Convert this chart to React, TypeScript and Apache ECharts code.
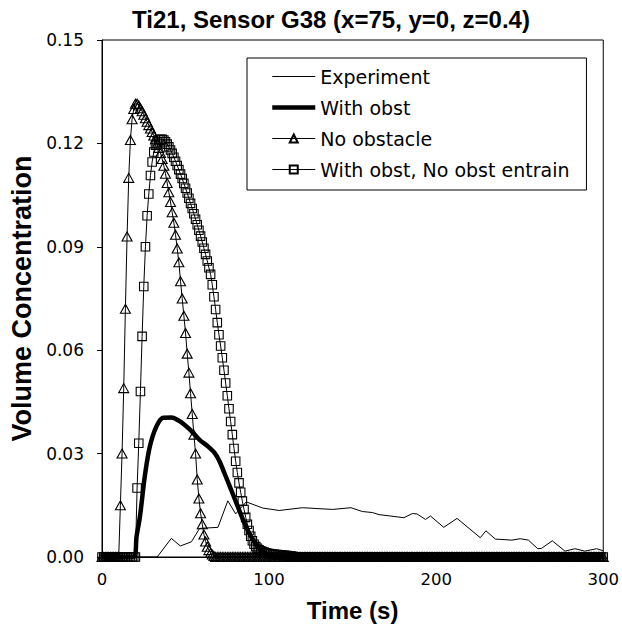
import { useEffect, useRef } from 'react';
import * as echarts from 'echarts';

// Simulation output grid (1 s steps, 0..300 s)
const simTimes: number[] = Array.from({ length: 301 }, (_, i) => i);

// "No obstacle" values, starting at t = 10 s (zero outside this window)
const noObstacleStart = 10;
const noObstacle = [
  0, 0.015, 0.030, 0.049, 0.072, 0.093, 0.110, 0.121, 0.127, 0.130,
  0.1315, 0.1315, 0.131, 0.1302, 0.1293, 0.1283, 0.1273, 0.1263, 0.1253, 0.1243,
  0.1233, 0.1223, 0.1212, 0.120, 0.1187, 0.1172, 0.1155, 0.1135, 0.1112, 0.1085,
  0.1058, 0.103, 0.100, 0.097, 0.0935, 0.0895, 0.0855, 0.080, 0.075, 0.070,
  0.065, 0.059, 0.0535, 0.0475, 0.0415, 0.0355, 0.030, 0.0225, 0.017, 0.0127,
  0.0095, 0.0065, 0.0045, 0.003, 0.002, 0.0012, 0.0007, 0.0003, 0,
];

// "With obst, No obst entrain" values, starting at t = 20 s
const noObstEntrainStart = 20;
const noObstEntrain = [
  0, 0.020, 0.033, 0.048, 0.064, 0.0785, 0.090, 0.099, 0.1053, 0.1107,
  0.1146, 0.1175, 0.1195, 0.1205, 0.121, 0.1212, 0.1212, 0.121, 0.1205, 0.1198,
  0.119, 0.1181, 0.1171, 0.116, 0.1148, 0.1136, 0.1124, 0.1111, 0.1098, 0.1084,
  0.107, 0.1056, 0.1041, 0.1026, 0.1011, 0.0996, 0.098, 0.0964, 0.0948, 0.0931,
  0.0914, 0.0896, 0.0878, 0.0859, 0.0839, 0.082, 0.079, 0.0755, 0.0718, 0.068,
  0.0645, 0.0612, 0.0578, 0.0542, 0.0505, 0.0468, 0.043, 0.0393, 0.0355, 0.0315,
  0.0278, 0.0245, 0.0215, 0.0188, 0.0162, 0.0138, 0.0115, 0.0095, 0.0077, 0.006,
  0.0047, 0.0037, 0.003, 0.0025, 0.0021, 0.0018, 0.0016, 0.0014, 0.0012, 0.0011,
  0.001, 0.0009, 0.0008, 0.0008, 0.0007, 0.0007, 0.0006, 0.0006, 0.0005, 0.0005,
  0.0004, 0.0004, 0.0003, 0.0003, 0.0002, 0,
];

// "With obst" (thick line)
const withObstTimes = [
  0, 19, 20.7, 22.7, 25.6, 28.6, 32.6, 36.6, 41.5, 46.5, 52.5, 58.4, 63.4, 67.4,
  70.4, 73.3, 77.3, 81.3, 85.3, 89.3, 93.2, 98.2, 103, 300,
];
const withObstValues = [
  0, 0, 0.006, 0.0117, 0.0234, 0.032, 0.0379, 0.0404, 0.0405, 0.0394, 0.037, 0.034, 0.0321, 0.0302,
  0.0277, 0.0243, 0.0195, 0.0146, 0.0098, 0.0058, 0.0029, 0.001, 0, 0,
];

// "Experiment" (thin line)
const experimentTimes = [
  0, 33, 41.5, 46.9, 53.5, 58.4, 69.4, 75.3, 80, 86.3, 96.2, 106, 120, 138, 149,
  155.8, 161.8, 165.8, 180.7, 185.7, 188.5, 193.6, 196.6, 204.5, 212.5, 226.4,
  229.8, 235.4, 245.3, 250.3, 255.2, 260.8, 263, 269.5, 277.1, 283, 289, 296, 300,
];
const experimentValues = [
  0, 0, 0.0054, 0.0032, 0.0044, 0.0083, 0.0086, 0.0163, 0.0125, 0.016, 0.0142, 0.0135, 0.0143, 0.0138, 0.0143,
  0.0132, 0.0129, 0.0123, 0.0114, 0.0126, 0.0125, 0.0109, 0.0119, 0.0086, 0.0112, 0.0056,
  0.0076, 0.0052, 0.0049, 0.0053, 0.0049, 0.0024, 0.0025, 0.0047, 0.0017, 0.0024, 0.0017, 0.0024, 0.0018,
];

const xTicks = [0, 100, 200, 300];
const yTicks = [0, 0.03, 0.06, 0.09, 0.12, 0.15];

const seriesNames = ['Experiment', 'With obst', 'No obstacle', 'With obst, No obst entrain'];
const titleText = 'Ti21, Sensor G38 (x=75, y=0, z=0.4)';
const xName = 'Time (s)';
const yName = 'Volume Concentration';

const FONT = 'DejaVu Sans';
const BOLD_FONT = 'Liberation Sans';

function onGrid(start: number, values: number[]) {
  return simTimes.map((t) => {
    const i = t - start;
    return [t, i >= 0 && i < values.length ? values[i] : 0];
  });
}

function pairs(ts: number[], vs: number[]) {
  return ts.map((t, i) => [t, vs[i]]);
}

const noSymbol = { color: 'rgba(0,0,0,0)', borderWidth: 0, opacity: 0 };

export default function App() {
  const ref = useRef<HTMLDivElement>(null);
  useEffect(() => {
    if (!ref.current) return;
    const chart = echarts.init(ref.current, undefined, { renderer: 'svg' });
    chart.setOption({
      animation: false,
      backgroundColor: '#fff',
      graphic: [
        {
          type: 'text',
          style: {
            text: titleText,
            x: 331,
            y: 19,
            align: 'center',
            verticalAlign: 'middle',
            font: `bold 24px ${BOLD_FONT}`,
            fill: '#000',
          },
        },
      ],
      grid: {
        left: 102,
        right: 17,
        top: 40,
        bottom: 77,
        show: true,
        borderColor: '#000',
        borderWidth: 1,
        backgroundColor: 'transparent',
      },
      legend: {
        orient: 'vertical',
        left: 247,
        top: 58,
        padding: [8, 17, 10, 23],
        itemWidth: 43,
        itemHeight: 10,
        itemGap: 10,
        borderColor: '#000',
        borderWidth: 1,
        backgroundColor: '#fff',
        selectedMode: false,
        data: [
          { name: seriesNames[0], itemStyle: noSymbol, lineStyle: { width: 1 } },
          { name: seriesNames[1], itemStyle: noSymbol, lineStyle: { width: 4.5 } },
          { name: seriesNames[2], lineStyle: { width: 1 } },
          { name: seriesNames[3], lineStyle: { width: 1 } },
        ],
        textStyle: { fontFamily: FONT, fontSize: 19, color: '#000', lineHeight: 21 },
      },
      xAxis: {
        type: 'value',
        min: xTicks[0],
        max: xTicks[xTicks.length - 1],
        interval: 100,
        name: xName,
        nameLocation: 'middle',
        nameGap: 41,
        nameTextStyle: { fontFamily: BOLD_FONT, fontWeight: 'bold', fontSize: 24, color: '#000' },
        axisLine: { lineStyle: { color: '#000', width: 1 } },
        axisTick: { show: true, length: 5, lineStyle: { color: '#000' } },
        axisLabel: { fontFamily: FONT, fontSize: 16.5, color: '#000', margin: 14 },
        splitLine: { show: false },
      },
      yAxis: {
        type: 'value',
        min: yTicks[0],
        max: yTicks[yTicks.length - 1],
        interval: 0.03,
        name: yName,
        nameLocation: 'middle',
        nameRotate: 90,
        nameGap: 67,
        nameTextStyle: { fontFamily: BOLD_FONT, fontWeight: 'bold', fontSize: 27, color: '#000' },
        axisLine: { show: true, lineStyle: { color: '#000', width: 1 } },
        axisTick: { show: true, length: 5, lineStyle: { color: '#000' } },
        axisLabel: {
          fontFamily: FONT,
          fontSize: 17,
          color: '#000',
          margin: 18,
          formatter: (v: number) => v.toFixed(2),
        },
        splitLine: { show: false },
      },
      series: [
        {
          name: seriesNames[3],
          type: 'line',
          data: onGrid(noObstEntrainStart, noObstEntrain),
          symbol: 'rect',
          symbolSize: 8.5,
          showAllSymbol: true,
          clip: false,
          lineStyle: { color: '#000', width: 1 },
          itemStyle: { color: 'rgba(255,255,255,0)', borderColor: '#000', borderWidth: 1.1 },
          z: 2,
        },
        {
          name: seriesNames[2],
          type: 'line',
          data: onGrid(noObstacleStart, noObstacle),
          symbol: 'triangle',
          symbolSize: [10, 9],
          showAllSymbol: true,
          clip: false,
          lineStyle: { color: '#000', width: 1 },
          itemStyle: { color: 'rgba(255,255,255,0)', borderColor: '#000', borderWidth: 1.1 },
          z: 3,
        },
        {
          name: seriesNames[1],
          type: 'line',
          data: pairs(withObstTimes, withObstValues),
          symbol: 'none',
          smooth: 0.3,
          lineStyle: { color: '#000', width: 4.5 },
          itemStyle: { color: '#000' },
          z: 4,
        },
        {
          name: seriesNames[0],
          type: 'line',
          data: pairs(experimentTimes, experimentValues),
          symbol: 'none',
          lineStyle: { color: '#000', width: 1 },
          itemStyle: { color: '#000' },
          z: 5,
        },
      ],
    });
    return () => chart.dispose();
  }, []);
  return (
    <div
      ref={ref}
      style={{ position: 'absolute', left: 0, top: 0, width: 622, height: 634 }}
    />
  );
}
